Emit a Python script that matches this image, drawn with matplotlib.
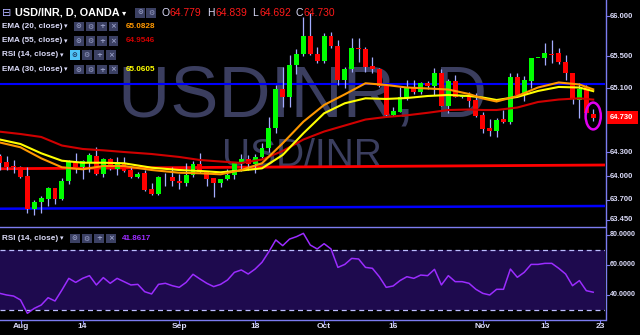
import matplotlib
matplotlib.use('Agg')
import matplotlib.pyplot as plt
from matplotlib.patches import Rectangle, Ellipse
from matplotlib.lines import Line2D

# ---------------- data ----------------
opens = [64.250, 64.175, 64.118, 64.113, 64.000, 63.588, 63.675, 63.713, 63.850, 63.713,
         63.938, 64.175, 64.113, 64.175, 64.250, 64.025, 64.213, 64.088, 64.163, 64.075,
         63.988, 64.038, 63.838, 63.775, 63.985, 63.988, 63.938, 63.913, 64.013, 64.150,
         64.050, 63.975, 63.913, 63.963, 64.013, 64.163, 64.213, 64.150, 64.238, 64.350,
         64.600, 65.088, 64.988, 65.388, 65.525, 65.750, 65.525, 65.438, 65.750, 65.625,
         65.200, 65.338, 65.600, 65.588, 65.375, 65.338, 65.125, 64.763, 64.800, 64.975,
         65.100, 65.050, 65.163, 65.125, 65.288, 64.875, 65.188, 64.988, 64.988, 64.950,
         64.763, 64.600, 64.563, 64.713, 64.675, 65.238, 65.013, 65.188, 65.475, 65.475,
         65.525, 65.538, 65.425, 65.288, 64.950, 65.113, 64.779]
highs = [64.275, 64.250, 64.200, 64.125, 64.113, 63.700, 63.750, 63.863, 63.850, 63.975,
         64.200, 64.288, 64.200, 64.288, 64.363, 64.225, 64.225, 64.238, 64.238, 64.113,
         64.050, 64.075, 63.913, 64.000, 64.038, 64.113, 64.025, 64.163, 64.188, 64.288,
         64.050, 63.975, 63.963, 64.088, 64.175, 64.275, 64.263, 64.275, 64.413, 64.738,
         65.138, 65.363, 65.513, 65.588, 65.988, 66.038, 65.613, 65.788, 65.800, 65.700,
         65.363, 65.725, 65.725, 65.613, 65.488, 65.350, 65.125, 64.863, 65.113, 65.200,
         65.200, 65.175, 65.188, 65.350, 65.338, 65.213, 65.263, 65.000, 65.050, 65.038,
         64.800, 64.713, 64.725, 64.825, 65.288, 65.288, 65.250, 65.475, 65.480, 65.663,
         65.700, 65.600, 65.513, 65.288, 65.163, 65.138, 64.839]
lows = [64.075, 64.075, 64.038, 63.975, 63.538, 63.513, 63.538, 63.625, 63.650, 63.700,
        63.900, 64.038, 63.963, 64.050, 64.013, 63.988, 64.075, 64.013, 64.050, 63.975,
        63.975, 63.813, 63.763, 63.763, 63.875, 63.875, 63.838, 63.875, 63.988, 64.038,
        63.875, 63.738, 63.863, 63.950, 63.963, 64.063, 64.075, 64.038, 64.225, 64.300,
        64.538, 64.863, 64.863, 65.275, 65.500, 65.513, 65.413, 65.413, 65.600, 65.138,
        65.100, 65.300, 65.425, 65.300, 65.288, 65.113, 64.738, 64.750, 64.800, 64.950,
        65.025, 65.025, 65.088, 65.013, 64.875, 64.788, 64.988, 64.975, 64.863, 64.738,
        64.538, 64.500, 64.488, 64.663, 64.650, 64.988, 64.938, 65.100, 65.470, 65.388,
        65.413, 65.400, 65.200, 64.900, 64.725, 64.775, 64.692]
closes = [64.163, 64.113, 64.110, 63.988, 63.588, 63.675, 63.725, 63.850, 63.713, 63.938,
          64.175, 64.088, 64.188, 64.263, 64.025, 64.213, 64.088, 64.175, 64.063, 63.988,
          64.025, 63.825, 63.775, 63.988, 63.990, 63.938, 63.913, 64.013, 64.150, 64.050,
          63.963, 63.913, 63.963, 64.013, 64.163, 64.213, 64.150, 64.238, 64.350, 64.600,
          65.088, 64.988, 65.388, 65.525, 65.750, 65.525, 65.438, 65.750, 65.625, 65.200,
          65.338, 65.600, 65.585, 65.363, 65.338, 65.125, 64.763, 64.813, 64.988, 65.100,
          65.050, 65.163, 65.125, 65.288, 64.875, 65.188, 64.988, 64.995, 64.938, 64.750,
          64.588, 64.563, 64.700, 64.675, 65.238, 65.013, 65.200, 65.475, 65.478, 65.538,
          65.520, 65.425, 65.288, 64.963, 65.088, 64.788, 64.730]

rsi_values = [41.1, 40.0, 39.3, 36.7, 27.8, 31.1, 33.3, 38.2, 36.0, 43.3,
              51.1, 48.4, 51.1, 52.9, 46.7, 51.6, 47.8, 51.1, 48.9, 46.7,
              47.1, 42.2, 40.7, 47.1, 47.8, 46.2, 45.1, 48.4, 53.8, 50.7,
              47.8, 45.6, 47.1, 50.0, 55.1, 56.7, 54.0, 57.3, 61.8, 68.9,
              76.7, 72.9, 77.3, 78.9, 81.1, 73.3, 70.7, 74.2, 70.7, 58.4,
              60.4, 64.4, 64.0, 58.4, 57.8, 52.2, 45.1, 46.0, 49.6, 52.2,
              51.1, 53.3, 52.9, 57.1, 46.7, 52.9, 48.9, 48.9, 47.8, 43.8,
              41.1, 40.0, 43.8, 43.8, 57.3, 51.8, 55.1, 60.4, 60.4, 61.1,
              61.1, 57.8, 54.0, 46.2, 49.6, 42.9, 41.86]

ema_idx = [0, 3, 6, 9, 12, 15, 18, 22, 26, 29, 32, 35, 38, 41, 44, 47, 50, 53, 56, 59,
           62, 65, 68, 70, 72, 75, 78, 81, 84, 86]
ema20 = [64.419, 64.359, 64.221, 64.109, 64.084, 64.125, 64.125, 64.075, 64.041, 64.034,
         64.021, 64.075, 64.159, 64.409, 64.679, 64.888, 65.021, 65.159, 65.138, 65.106,
         65.094, 65.081, 65.025, 64.969, 64.931, 65.000, 65.106, 65.169, 65.144, 65.083]
ema30 = [64.456, 64.400, 64.284, 64.191, 64.166, 64.166, 64.159, 64.104, 64.075, 64.063,
         64.046, 64.069, 64.096, 64.263, 64.534, 64.784, 64.909, 64.971, 64.963, 64.975,
         65.000, 65.013, 65.000, 64.981, 64.950, 64.988, 65.063, 65.113, 65.106, 65.061]
ema55 = [64.554, 64.525, 64.488, 64.381, 64.338, 64.321, 64.300, 64.275, 64.238, 64.200,
         64.181, 64.163, 64.206, 64.313, 64.456, 64.556, 64.631, 64.706, 64.738, 64.759,
         64.790, 64.825, 64.831, 64.825, 64.825, 64.856, 64.925, 64.956, 64.971, 64.955]

red_trend = [64.091, 64.1375]      # left / right end
blue_low_trend = [63.591, 63.625]
blue_high_level = [65.146, 65.146]

price_ticks = [66.0, 65.5, 65.1, 64.3, 64.0, 63.7, 63.45]
rsi_ticks = [80, 60, 40]
date_pos = [3, 12, 26, 37, 47, 57, 70, 79, 87]
date_labels = ['Aug', '14', 'Sep', '18', 'Oct', '16', 'Nov', '13', '23']
last_price = 64.730
ohlc_text = ['64.779', '64.839', '64.692', '64.730']
ema20_val, ema55_val, ema30_val, rsi_val = '65.0828', '64.9546', '65.0605', '41.8617'

# ---------------- style ----------------
W, H = 640, 335
BG = 'black'
GREEN, RED, WICK = '#00ff00', '#ff0000', '#a4acff'
C20, C55, C30, CRSI = '#ff9800', '#d00000', '#ffff00', '#9b2cff'
AXC = '#7c7cf0'
TXT = '#dcdcfa'
ICON = '#3b4063'
FONT = ['Liberation Sans', 'DejaVu Sans']
WM = '#3b3e5f'

fig = plt.figure(figsize=(W / 100, H / 100), dpi=100)
fig.patch.set_facecolor(BG)


def fx(x):
    return x / W


def fy(y):
    return 1 - y / H


XL = (0.03, 87.71)
MAIN_TOP, MAIN_BOT = 0.0, 226.5
ax = fig.add_axes([0, fy(MAIN_BOT), fx(605), (MAIN_BOT - MAIN_TOP) / H])
ax.set_xlim(*XL)
ax.set_ylim(66.2 - MAIN_BOT / 80.0, 66.2)
ax.axis('off')

# watermark
ax.text(fx(303), fy(117), 'USDINR, D', transform=fig.transFigure, ha='center', va='baseline',
        fontsize=52, color=WM, family='Liberation Sans', zorder=0)
ax.text(fx(302), fy(166), 'USD/INR', transform=fig.transFigure, ha='center', va='baseline',
        fontsize=28, color=WM, family='Liberation Sans', zorder=0)

# trend lines
ax.plot(XL, red_trend, color='#ff0000', lw=2.0, zorder=1, solid_capstyle='butt')
ax.plot(XL, blue_low_trend, color='#0000ff', lw=1.8, zorder=1, solid_capstyle='butt')
ax.plot(XL, blue_high_level, color='#0000ff', lw=1.5, zorder=1, solid_capstyle='butt')

# candles
n = len(opens)
xs = list(range(n))
for i in xs:
    o, h, l, c = opens[i], highs[i], lows[i], closes[i]
    col = GREEN if c >= o else RED
    ax.vlines(i, l, h, color=WICK, lw=0.9, zorder=3)
    body = abs(c - o)
    bot = min(o, c)
    if body < 0.012:
        bot -= (0.012 - body) / 2
        body = 0.012
    ax.bar(i, body, bottom=bot, width=0.72, color=col, lw=0, zorder=4)

# EMAs
ax.plot(ema_idx, ema55, color=C55, lw=1.5, zorder=5)
ax.plot(ema_idx, ema30, color=C30, lw=1.5, zorder=5)
ax.plot(ema_idx, ema20, color=C20, lw=1.5, zorder=5)

# ellipse around last candle
ax.add_patch(Ellipse((n - 1, 64.75), width=2.2, height=0.335, fill=False,
                     ec='#e000f0', lw=1.8, zorder=6))

# RSI panel
rax = fig.add_axes([0, fy(319), fx(605), (319 - 227) / H])
rax.set_xlim(*XL)
rax.set_ylim(24, 40 + (295 - 227) / 1.5)
rax.axis('off')
rax.axhspan(30, 70, color='#1e0a4e', lw=0, zorder=0)
rax.axhline(70, color='#bcbcff', lw=0.9, ls=(0, (4, 3)), zorder=1)
rax.axhline(30, color='#bcbcff', lw=0.9, ls=(0, (4, 3)), zorder=1)
rax.plot(xs, rsi_values, color=CRSI, lw=1.1, zorder=2)


# ---------------- frame lines & axis labels ----------------
def fline(x0, y0, x1, y1, **kw):
    fig.add_artist(Line2D([fx(x0), fx(x1)], [fy(y0), fy(y1)], transform=fig.transFigure, **kw))


fline(0, 226.8, 605, 226.8, color=AXC, lw=1.0)
fline(0, 319.5, 605, 319.5, color=AXC, lw=1.0)
fline(605.5, 0, 605.5, 320, color=AXC, lw=1.0)

AXFS = 5.5
for p in price_ticks:
    y = 16 + (66 - p) * 80
    fline(605.5, y, 609, y, color=AXC, lw=0.8)
    fig.text(fx(610), fy(y), '%.3f' % p, color=TXT, fontsize=AXFS, fontweight='bold',
             family=FONT, ha='left', va='center')

ylp = 16 + (66 - last_price) * 80
fig.add_artist(Rectangle((fx(605.5), fy(ylp + 6.5)), fx(32), 13 / H, transform=fig.transFigure,
                         color='#ff0000', lw=0))
fig.text(fx(610), fy(ylp), '%.3f' % last_price, color='white', fontsize=AXFS, fontweight='bold',
         family=FONT, ha='left', va='center')

for v in rsi_ticks:
    y = 295 - (v - 40) * 1.5
    fline(605.5, y, 609, y, color=AXC, lw=0.8)
    fig.text(fx(610), fy(y), '%.4f' % v, color=TXT, fontsize=5.1, fontweight='bold',
             family=FONT, ha='left', va='center')

for pos, lab in zip(date_pos, date_labels):
    xp = 6.9 * pos - 0.2
    fline(xp, 319.5, xp, 322.5, color=AXC, lw=0.8)
    fig.text(fx(xp), fy(327), lab, color=TXT, fontsize=6.0, fontweight='bold',
             family=FONT, ha='center', va='center')


# ---------------- legend / header ----------------
def icon(x, y, glyph, size=9.5, fc=ICON, gc='#9aa0c8'):
    fig.add_artist(Rectangle((fx(x), fy(y + size / 2)), size / W, size / H,
                             transform=fig.transFigure, color=fc, lw=0))
    fig.text(fx(x + size / 2), fy(y), glyph, color=gc, fontsize=5.0, fontweight='bold',
             family='DejaVu Sans', ha='center', va='center')


def txt(x, y, s, color=TXT, size=5.9, weight='bold', family=FONT):
    fig.text(fx(x), fy(y), s, color=color, fontsize=size, fontweight=weight,
             family=family, ha='left', va='center')


# header
txt(2, 12.5, '⊟', color='#b0b0ff', size=8, weight='normal', family='DejaVu Sans')
txt(15, 12.5, 'USD/INR, D, OANDA', color='white', size=7.8)
txt(122, 12.5, '▾', color='white', size=6, family='DejaVu Sans')
icon(135, 12.5, '⊙', size=10)
icon(146, 12.5, '⚙', size=10)
for xl, lab, xv, val in [(162, 'O', 170, ohlc_text[0]), (207, 'H', 216, ohlc_text[1]),
                         (252, 'L', 260, ohlc_text[2]), (296, 'C', 304, ohlc_text[3])]:
    txt(xl, 12.5, lab, color=TXT, size=7.5, weight='normal')
    txt(xv, 12.5, val, color='#ff1a1a', size=7.5, weight='normal')

rows = [(26.5, 'EMA (20, close)', ema20_val, C20),
        (41, 'EMA (55, close)', ema55_val, C55),
        (55, 'RSI (14, close)', None, None),
        (69.5, 'EMA (30, close)', ema30_val, C30)]
for y, lab, val, col in rows:
    txt(2, y, lab)
    if val is None:
        txt(59.5, y, '▾', size=5, family='DejaVu Sans')
        icon(70, y, '⊙', fc='#4fc3f7', gc='#1a2a50')
        icon(82, y, '⚙')
        icon(94, y, '+')
        icon(106, y, '×')
    else:
        txt(64, y, '▾', size=5, family='DejaVu Sans')
        icon(74, y, '⊙')
        icon(85.5, y, '⚙')
        icon(97, y, '+')
        icon(108.5, y, '×')
        txt(126, y, val, color=col, size=5.9)

# RSI legend
txt(2, 238.5, 'RSI (14, close)')
txt(59.5, 238.5, '▾', size=5, family='DejaVu Sans')
icon(70, 238.5, '⊙')
icon(82, 238.5, '⚙')
icon(94, 238.5, '+')
icon(106, 238.5, '×')
txt(122, 238.5, rsi_val, color=CRSI, size=5.9)

fig.savefig('out.png', dpi=100, facecolor=BG)
